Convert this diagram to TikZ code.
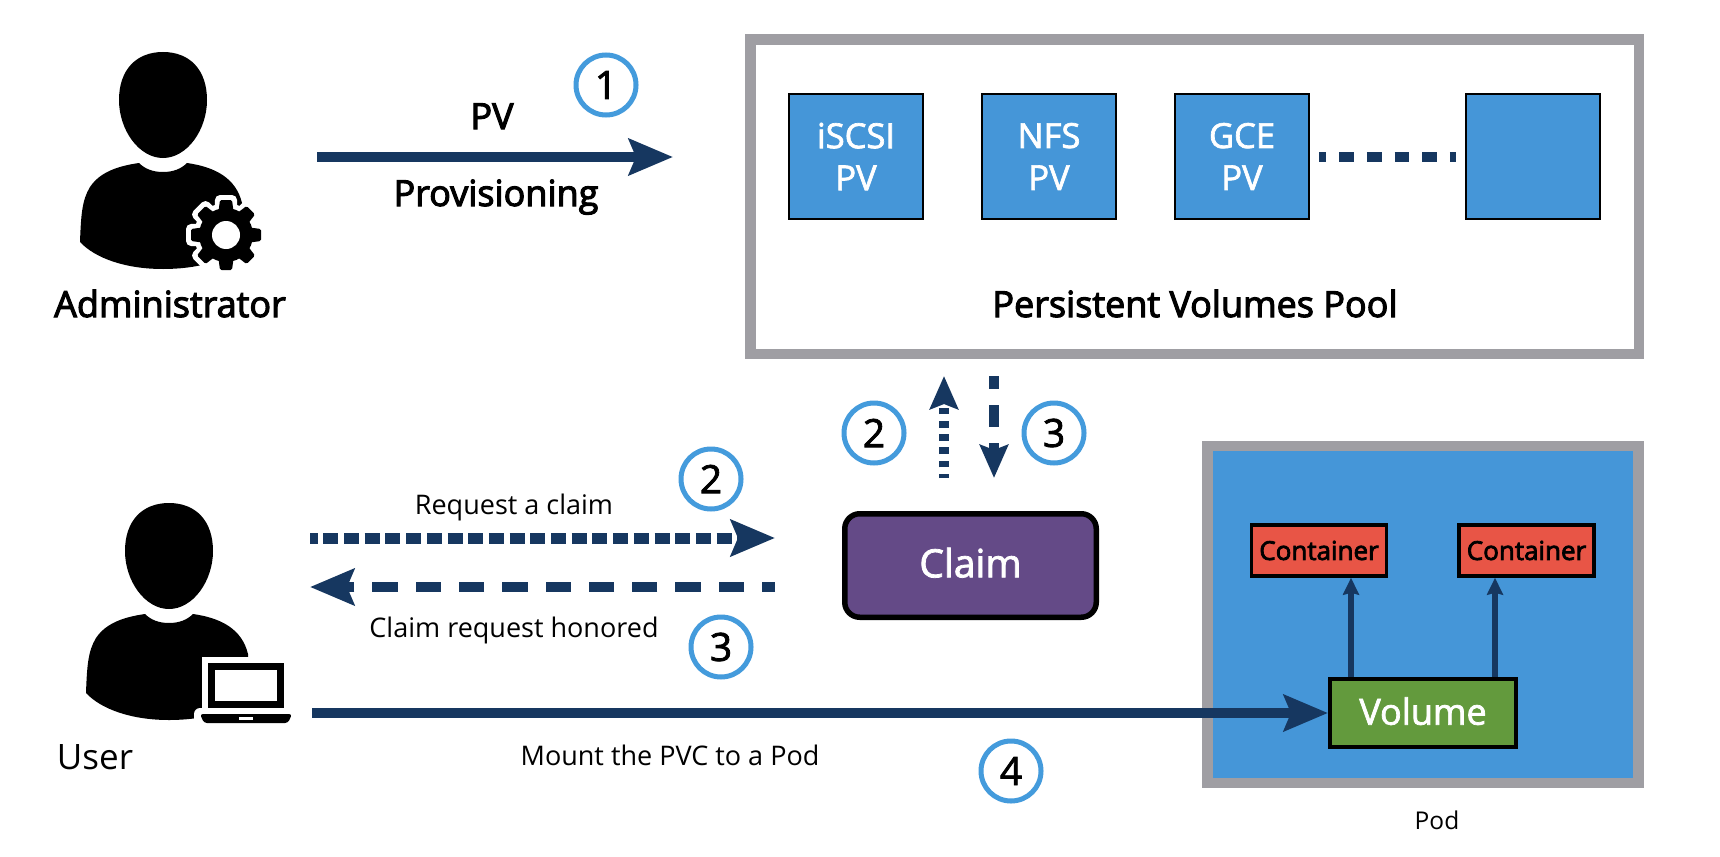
\documentclass[tikz,border=0pt]{standalone}
\usepackage{fontspec}
\setmainfont{Open Sans}
\newfontfamily\osmed[FakeBold=2]{Open Sans}
\newfontfamily\ossemi[FakeBold=3]{Open Sans}
\usetikzlibrary{arrows.meta,calc}
\definecolor{navy}{HTML}{163760}
\definecolor{skyb}{HTML}{4596D8}
\definecolor{frame}{HTML}{9F9EA3}
\definecolor{ringc}{HTML}{449BDC}
\definecolor{purp}{HTML}{644A87}
\definecolor{redb}{HTML}{E85546}
\definecolor{greenb}{HTML}{639A3D}
\tikzset{
  bigtip/.style={-{Stealth[length=44pt,width=36pt,inset=7pt]}},
  flow/.style={draw=navy,line width=10.5pt},
  smalltip/.style={-{Stealth[length=33pt,width=28pt,inset=5pt]}},
  ring/.style={circle,draw=ringc,fill=white,line width=5pt,minimum size=60pt,inner sep=0pt,font=\osmed\fontsize{39}{39}\selectfont},
  pvbox/.style={draw=black,fill=skyb,line width=2pt,minimum width=134.5pt,minimum height=125pt,inner sep=0pt,align=center,text=white,font=\osmed\fontsize{34.5}{42}\selectfont},
  poolframe/.style={draw=frame,fill=white,line width=10.5pt,minimum width=888.5pt,minimum height=314.5pt,inner sep=0pt},
  podframe/.style={draw=frame,fill=skyb,line width=10.5pt,minimum width=431pt,minimum height=337pt,inner sep=0pt},
  ctbox/.style={draw=black,fill=redb,line width=3.5pt,minimum width=135pt,minimum height=51pt,inner sep=0pt,font=\ossemi\fontsize{26}{26}\selectfont},
  volbox/.style={draw=black,fill=greenb,line width=4pt,minimum width=186pt,minimum height=68pt,inner sep=0pt,text=white,text depth=4pt,font=\osmed\fontsize{36}{36}\selectfont},
  claimbox/.style={draw=black,fill=purp,line width=5.5pt,rounded corners=15pt,minimum width=251.5pt,minimum height=103.5pt,inner sep=0pt,text=white,text depth=6pt,font=\osmed\fontsize{39}{39}\selectfont},
  lab/.style={anchor=base,inner sep=0pt,font=\ossemi\fontsize{36}{36}\selectfont},
  smalllab/.style={anchor=base,inner sep=0pt,font=\fontsize{27}{27}\selectfont},
}
\newcommand{\personfig}{%
  \fill (163,52) .. controls (190,52) and (207,70) .. (207,100)
    .. controls (207,130) and (187,158) .. (163,158)
    .. controls (139,158) and (119,130) .. (119,100)
    .. controls (119,70) and (136,52) .. (163,52) -- cycle;
  \fill (139,163) .. controls (145,169) and (153,172) .. (163,172)
    .. controls (173,172) and (181,169) .. (187,163)
    .. controls (215,167) and (236,178) .. (242,203)
    -- (245,245)
    .. controls (225,262) and (195,269) .. (163,269)
    .. controls (125,269) and (95,258) .. (80,242)
    .. controls (81,215) and (82,200) .. (90,187)
    .. controls (100,172) and (118,166) .. (139,163) -- cycle;
}
\begin{document}
\begin{tikzpicture}[x=1pt,y=-1pt]
\useasboundingbox (0,0) rectangle (1720,856);
\fill[white] (0,0) rectangle (1720,856);

% administrator
\personfig
\foreach \a in {0,45,...,315}{
  \draw[white,line width=10pt,line join=round,rotate around={\a:(226,235)}]
    (219,235) -- (220,200) -- (232,200) -- (233,235) -- cycle;
}
\fill[white] (226,235) circle (32);
\foreach \a in {0,45,...,315}{
  \fill[black,rounded corners=1.5pt,rotate around={\a:(226,235)}]
    (218,215) -- (220,200) -- (232,200) -- (234,215) -- cycle;
}
\fill[black] (226,235) circle (27);
\fill[white] (226,235) circle (14);
\node[lab] (admin) at (170,317) {Administrator};

% user
\begin{scope}[shift={(6,451)}]
\personfig
\end{scope}
\fill[white] (202,657) rectangle (290,714);
\fill[white,rounded corners=6pt] (194,708) rectangle (298,729);
\draw[black,line width=7pt,fill=white] (211.5,666.5) rectangle (280.5,704);
\fill[black,rounded corners=3pt] (200,714) -- (292,714) -- (288,723) -- (204,723) -- cycle;
\fill[white] (239,717) rectangle (253,720);
\node[lab,font=\fontsize{35}{35}\selectfont] (user) at (95,769) {User};

% pool
\node[poolframe] (pool) at (1194.5,196.75) {};
\node[pvbox] (iscsi) at (856,156.5) {iSCSI\\PV};
\node[pvbox] (nfs) at (1049,156.5) {NFS\\PV};
\node[pvbox] (gce) at (1242,156.5) {GCE\\PV};
\node[pvbox] (last) at (1533,156.5) {};
\node[lab] (poollab) at (1195,317) {Persistent Volumes Pool};
\draw[navy,line width=10pt,shorten <=9pt,shorten >=9pt,dash pattern=on 14.7pt off 12.9pt,dash phase=7.5pt] (gce.east) -- (last.west);

% pod
\node[podframe] (pod) at (1423,614.5) {};
\node[ctbox] (ct1) at (1319,550.5) {Container};
\node[ctbox] (ct2) at (1526.5,550.5) {Container};
\node[volbox] (vol) at (1423,713) {Volume};
\node[anchor=base,inner sep=0pt,font=\fontsize{24.5}{24.5}\selectfont] (podlab) at (1437,829) {Pod};
\coordinate (up1) at (1351,0);
\coordinate (up2) at (1495,0);
\draw[navy,line width=6pt,-{Stealth[length=17pt,width=16pt,inset=2pt]}] (up1 |- vol.north) -- (up1 |- ct1.south);
\draw[navy,line width=6pt,-{Stealth[length=17pt,width=16pt,inset=2pt]}] (up2 |- vol.north) -- (up2 |- ct2.south);

% claim
\node[claimbox] (claim) at (970.5,565.5) {Claim};

% flows
\coordinate (a1s) at (317,157);
\coordinate (a1e) at (673,157);
\draw[flow,bigtip] (a1s) -- (a1e);
\node[lab] (pvlab) at (492,129) {PV};
\node[lab] (provlab) at (496,206) {Provisioning};
\node[ring] (n1) at (606,85) {1};

\coordinate (rs) at (310,538);
\coordinate (re) at (775,538);
\draw[flow,line width=11pt,bigtip,dash pattern=on 15pt off 5.7pt,dash phase=7.4pt] (rs) -- (re);
\node[smalllab] (reqlab) at (514,514) {Request a claim};
\node[ring] (n2a) at (711,479) {2};

\coordinate (hs) at (775,587);
\coordinate (he) at (310,587);
\draw[flow,bigtip,dash pattern=on 25.3pt off 18pt,dash phase=12.3pt] (hs) -- (he);
\node[smalllab] (honlab) at (514,637) {Claim request honored};
\node[ring] (n3a) at (721,647) {3};

\coordinate (us) at (944,478);
\coordinate (ue) at (944,376);
\draw[flow,line width=10pt,smalltip,dash pattern=on 6.7pt off 6.6pt,dash phase=2.7pt] (us) -- (ue);
\node[ring] (n2b) at (874,433) {2};

\coordinate (ds) at (994,376);
\coordinate (de) at (994,478);
\draw[flow,smalltip,dash pattern=on 22pt off 16pt,dash phase=9pt] (ds) -- (de);
\node[ring] (n3b) at (1054,433) {3};

\coordinate (ms) at (312,713);
\draw[flow,bigtip] (ms) -- (vol.west);
\node[smalllab] (mountlab) at (670,765) {Mount the PVC to a Pod};
\node[ring] (n4) at (1011,771) {4};
\end{tikzpicture}
\end{document}
